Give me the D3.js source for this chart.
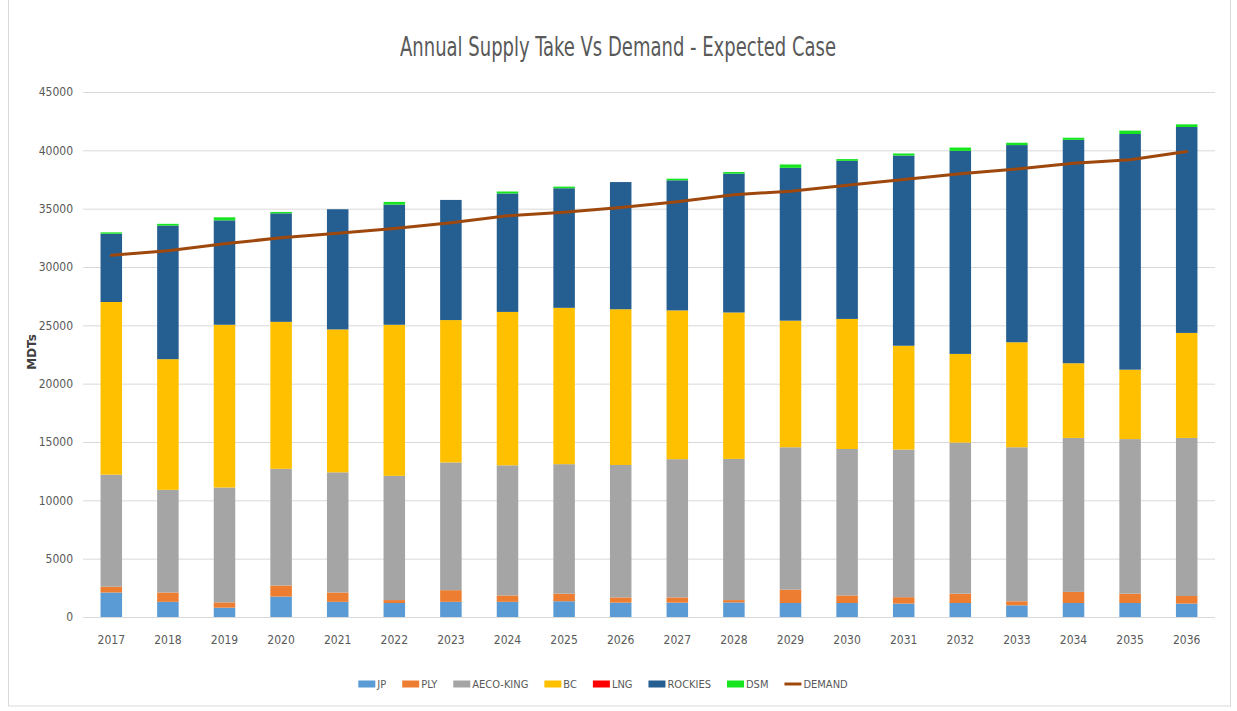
<!DOCTYPE html>
<html>
<head>
<meta charset="utf-8">
<script src="https://cdn.jsdelivr.net/npm/d3@7"></script>
<style>
    body { margin: 0; background: #fff; }
    .axis text { font-family: "Liberation Sans Narrow", "DejaVu Sans Condensed", sans-serif; font-size: 12px; fill: #595959; }
    .grid line { stroke: #d9d9d9; }
    .legend text { font-family: "Liberation Sans Narrow", "DejaVu Sans Condensed", sans-serif; font-size: 11px; fill: #595959; }
</style>
</head>
<body>
<div id="chart"></div>
<script>
// values (MDTs)
const years = ["2017","2018","2019","2020","2021","2022","2023","2024","2025","2026",
               "2027","2028","2029","2030","2031","2032","2033","2034","2035","2036"];
const jp      = [2100,1300,800,1750,1300,1200,1300,1300,1350,1230,1230,1250,1200,1200,1150,1200,1000,1200,1200,1150];
const ply     = [500,800,450,950,800,250,1000,550,650,450,450,200,1150,650,550,800,350,950,800,650];
const aecoKing = [9600,8800,9850,10000,10300,10650,10950,11150,11100,11350,11850,12100,12200,12550,12650,12950,13200,13200,13250,13550];
const bc      = [14800,11200,13950,12600,12250,12950,12200,13150,13400,13350,12750,12550,10850,11150,8900,7600,9000,6400,5950,9000];
const lng     = [0,0,0,0,0,0,0,0,0,0,0,0,0,0,0,0,0,0,0,0];
const rockies = [5850,11450,8950,9300,10300,10300,10300,10150,10250,10900,11150,11900,13100,13550,16300,17400,16900,19150,20200,17650];
const dsm     = [120,150,260,120,0,230,0,170,140,0,140,140,290,150,180,290,200,180,290,230];
const demand  = [31000,31400,32000,32500,32900,33300,33800,34400,34700,35100,35600,36200,36500,37000,37500,38000,38400,38900,39200,39900];
const yTicks  = [0,5000,10000,15000,20000,25000,30000,35000,40000,45000];

const seriesKeys = ["JP","PLY","AECO-KING","BC","LNG","ROCKIES","DSM"];
const seriesVals = [jp, ply, aecoKing, bc, lng, rockies, dsm];
const colors = {"JP":"#5b9bd5","PLY":"#ed7d31","AECO-KING":"#a5a5a5","BC":"#ffc000",
                "LNG":"#ff0000","ROCKIES":"#255e91","DSM":"#16e51f","DEMAND":"#9e480e"};

// table for d3.stack
const table = years.map((yr, i) => {
    let row = {year: yr};
    seriesKeys.forEach((k, j) => row[k] = seriesVals[j][i]);
    return row;
});

const W = 1237, H = 711;
const margin = {top: 92, right: 22, bottom: 94, left: 83};
const width = W - margin.left - margin.right;
const height = H - margin.top - margin.bottom;

const svg = d3.select("#chart").append("svg")
    .attr("width", W)
    .attr("height", H);

// faint frame around the chart area
svg.append("rect")
    .attr("x", 8.5).attr("y", -1)
    .attr("width", 1222).attr("height", 707)
    .attr("fill", "none")
    .attr("stroke", "#d9d9d9");

// title, squeezed to the narrow width of the original face
svg.append("text")
    .attr("x", 400)
    .attr("y", 56)
    .attr("textLength", 436)
    .attr("lengthAdjust", "spacingAndGlyphs")
    .attr("font-family", "'Liberation Sans Narrow', 'DejaVu Sans Condensed', sans-serif")
    .attr("font-size", "26px")
    .attr("fill", "#595959")
    .text("Annual Supply Take Vs Demand - Expected Case");

const g = svg.append("g")
    .attr("transform", `translate(${margin.left},${margin.top})`);

const x = d3.scaleBand()
    .domain(years)
    .range([0, width])
    .paddingInner(0.62)
    .paddingOuter(0.31);

const y = d3.scaleLinear()
    .domain([0, 45000])
    .range([height, 0]);

// gridlines + y labels
g.append("g")
    .attr("class", "axis grid")
    .call(d3.axisLeft(y).tickValues(yTicks).tickSize(-width).tickPadding(10).tickFormat(d3.format("d")))
    .call(ax => ax.select(".domain").remove());

g.append("g")
    .attr("class", "axis")
    .attr("transform", `translate(0,${height})`)
    .call(d3.axisBottom(x).tickSize(0).tickPadding(18))
    .call(ax => ax.select(".domain").remove());

svg.append("text")
    .attr("transform", "translate(36,352) rotate(-90)")
    .attr("text-anchor", "middle")
    .attr("font-family", "'DejaVu Sans', sans-serif")
    .attr("font-size", "12px")
    .attr("font-weight", "bold")
    .attr("fill", "#404040")
    .text("MDTs");

const stacked = d3.stack().keys(seriesKeys)(table);

g.selectAll(".layer")
    .data(stacked)
    .enter().append("g")
    .attr("class", "layer")
    .attr("fill", d => colors[d.key])
    .selectAll("rect")
    .data(d => d)
    .enter().append("rect")
    .attr("x", d => x(d.data.year))
    .attr("y", d => y(d[1]))
    .attr("width", x.bandwidth())
    .attr("height", d => y(d[0]) - y(d[1]));

const line = d3.line()
    .x((d, i) => x(years[i]) + x.bandwidth() / 2)
    .y(d => y(d));

g.append("path")
    .datum(demand)
    .attr("fill", "none")
    .attr("stroke", colors["DEMAND"])
    .attr("stroke-width", 3)
    .attr("stroke-linejoin", "round")
    .attr("stroke-linecap", "round")
    .attr("d", line);

// legend
const legendKeys = seriesKeys.concat(["DEMAND"]);
const legend = svg.append("g").attr("class", "legend");
const gap = 16;
let lx = 0;
legendKeys.forEach(k => {
    let item = legend.append("g").attr("transform", `translate(${lx},0)`);
    if (k === "DEMAND") {
        item.append("line")
            .attr("x1", 0).attr("x2", 17)
            .attr("y1", 0).attr("y2", 0)
            .attr("stroke", colors[k])
            .attr("stroke-width", 3);
    } else {
        item.append("rect")
            .attr("x", 0).attr("y", -3.5)
            .attr("width", 17).attr("height", 7)
            .attr("fill", colors[k]);
    }
    let t = item.append("text")
        .attr("x", 19)
        .attr("y", 4)
        .text(k);
    lx += 19 + t.node().getComputedTextLength() + gap;
});
lx -= gap;
legend.attr("transform", `translate(${603 - lx / 2},684)`);
</script>
</body>
</html>
